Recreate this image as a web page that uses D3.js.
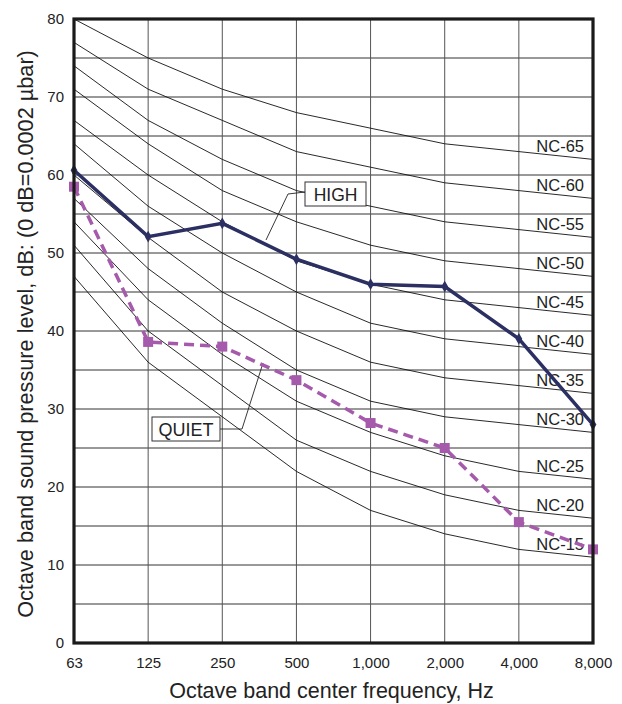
<!DOCTYPE html>
<html>
<head>
<meta charset="utf-8">
<script src="https://cdn.jsdelivr.net/npm/d3@7"></script>
<style>
body{margin:0;background:#fff;}
svg{display:block;font-family:"Liberation Sans",Arial,sans-serif;}
</style>
</head>
<body>
<svg id="chart" width="622" height="704"></svg>
<script>
const frequencies = ["63","125","250","500","1,000","2,000","4,000","8,000"];
const yTicks = [0,10,20,30,40,50,60,70,80];
const highValues  = [60.6, 52.1, 53.8, 49.2, 46.0, 45.7, 39.0, 28.0];
const quietValues = [58.5, 38.6, 38.0, 33.7, 28.2, 25.0, 15.5, 12.0];
const ncNames = ["NC-15","NC-20","NC-25","NC-30","NC-35","NC-40","NC-45","NC-50","NC-55","NC-60","NC-65"];
const ncCurves = [
  [47,36,29,22,17,14,12,11],
  [51,40,33,26,22,19,17,16],
  [54,44,37,31,27,24,22,21],
  [57,48,41,35,31,29,28,27],
  [60,52,45,40,36,34,33,32],
  [64,56,50,45,41,39,38,37],
  [67,60,54,49,46,44,43,42],
  [71,64,58,54,51,49,48,47],
  [74,67,62,58,56,54,53,52],
  [77,71,67,63,61,59,58,57],
  [80,75,71,68,66,64,63,62]
];

const svg = d3.select("#chart");
const L = 74, R = 593, T = 19, B = 643;
const x = d3.scalePoint().domain(frequencies).range([L, R]);
const y = d3.scaleLinear().domain([0, 80]).range([B, T]);

// gridlines
const g = svg.append("g");
g.selectAll("line.h").data(d3.range(5, 80, 5)).enter().append("line")
  .attr("x1", L).attr("x2", R).attr("y1", d => y(d)).attr("y2", d => y(d))
  .attr("stroke", "#333").attr("stroke-width", 1);
g.selectAll("line.v").data(frequencies.slice(1, -1)).enter().append("line")
  .attr("y1", T).attr("y2", B).attr("x1", d => x(d)).attr("x2", d => x(d))
  .attr("stroke", "#555").attr("stroke-width", 1);

// NC curves
const line = d3.line().x((d, i) => x(frequencies[i])).y(d => y(d));
svg.append("g").selectAll("path").data(ncCurves).enter().append("path")
  .attr("d", line).attr("fill", "none").attr("stroke", "#111").attr("stroke-width", 0.9);

svg.append("g").selectAll("text").data(ncCurves).enter().append("text")
  .attr("x", 584).attr("y", d => y(d[7]) - 7)
  .attr("text-anchor", "end").attr("font-size", 16.5).attr("fill", "#222")
  .text((d, i) => ncNames[i]);

// leader lines and labels
const ann = svg.append("g");
ann.append("polyline")
  .attr("points", [[305, 192], [288, 194], [266, 240]].map(p => p.join(",")).join(" "))
  .attr("fill", "none").attr("stroke", "#222").attr("stroke-width", 0.9);
ann.append("rect").attr("x", 305).attr("y", 182).attr("width", 61).attr("height", 24)
  .attr("fill", "#fff").attr("stroke", "#333").attr("stroke-width", 1);
ann.append("text").attr("x", 335.5).attr("y", 200.5).attr("text-anchor", "middle")
  .attr("font-size", 17.5).attr("fill", "#222").text("HIGH");

ann.append("polyline")
  .attr("points", [[220, 429], [242, 429], [263, 363]].map(p => p.join(",")).join(" "))
  .attr("fill", "none").attr("stroke", "#222").attr("stroke-width", 0.9);
ann.append("rect").attr("x", 152).attr("y", 417).attr("width", 68).attr("height", 24)
  .attr("fill", "#fff").attr("stroke", "#333").attr("stroke-width", 1);
ann.append("text").attr("x", 186).attr("y", 435.5).attr("text-anchor", "middle")
  .attr("font-size", 18).attr("fill", "#222").text("QUIET");

// QUIET series
svg.append("path").datum(quietValues).attr("d", line)
  .attr("fill", "none").attr("stroke", "#a55aab").attr("stroke-width", 3.5)
  .attr("stroke-dasharray", "10,6");
svg.append("g").selectAll("rect").data(quietValues).enter().append("rect")
  .attr("x", (d, i) => x(frequencies[i]) - 5).attr("y", d => y(d) - 5)
  .attr("width", 10).attr("height", 10).attr("fill", "#a55aab");

// HIGH series
svg.append("path").datum(highValues).attr("d", line)
  .attr("fill", "none").attr("stroke", "#2b2f62").attr("stroke-width", 3.5);
svg.append("g").selectAll("path").data(highValues).enter().append("path")
  .attr("d", d3.symbol().type(d3.symbolDiamond).size(40))
  .attr("transform", (d, i) => `translate(${x(frequencies[i])},${y(d)})`)
  .attr("fill", "#2b2f62");

// frame
svg.append("rect").attr("x", L).attr("y", T).attr("width", R - L).attr("height", B - T)
  .attr("fill", "none").attr("stroke", "#1a1a1a").attr("stroke-width", 3.2);

// axes
const yAxis = svg.append("g").attr("transform", `translate(${L},0)`)
  .call(d3.axisLeft(y).tickValues(yTicks).tickSize(0).tickPadding(10));
yAxis.select(".domain").remove();
yAxis.selectAll("text").attr("font-size", 15).attr("fill", "#222").attr("font-family", "Liberation Sans, Arial, sans-serif");

const xAxis = svg.append("g").attr("transform", `translate(0,${B})`)
  .call(d3.axisBottom(x).tickSize(0).tickPadding(14));
xAxis.select(".domain").remove();
xAxis.selectAll("text").attr("font-size", 15).attr("fill", "#222").attr("font-family", "Liberation Sans, Arial, sans-serif");

svg.append("text").attr("x", 331.5).attr("y", 698).attr("text-anchor", "middle")
  .attr("font-size", 21.5).attr("fill", "#222").text("Octave band center frequency, Hz");
svg.append("text").attr("transform", "translate(32.5,334) rotate(-90)")
  .attr("text-anchor", "middle").attr("font-size", 21.7).attr("fill", "#222")
  .text("Octave band sound pressure level, dB: (0 dB=0.0002 µbar)");
</script>
</body>
</html>
